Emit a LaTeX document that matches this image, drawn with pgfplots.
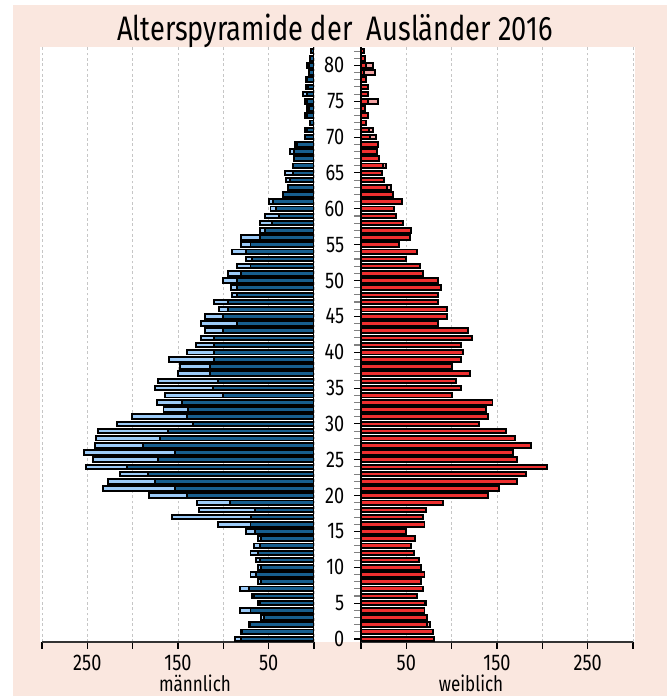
\documentclass[border=0pt]{standalone}
\usepackage{fontspec}
\setmainfont[FakeStretch=0.8]{Fira Sans}
\usepackage{pgfplots}
\usepackage{pgfplotstable}
\pgfplotsset{compat=1.18}

\definecolor{bgpeach}{HTML}{FAE7DF}
\definecolor{mdark}{HTML}{175E8E}
\definecolor{mlight}{HTML}{9CCBF8}
\definecolor{fred}{HTML}{EE2F2F}
\definecolor{flight}{HTML}{F4A3A3}

% age, male total (light), male subset (dark), female total (light), female subset (red)
\pgfplotstableread{
age mt md ft fr
0 87 80 81 81
1 80 79 79 79
2 72 71 76 73
3 58 55 73 73
4 82 70 70 70
5 62 60 72 70
6 68 66 62 62
7 82 72 68 68
8 62 58 66 66
9 70 64 70 70
10 62 58 66 66
11 64 60 64 64
12 70 62 58 58
13 66 60 55 55
14 62 58 60 60
15 75 65 50 50
16 106 70 70 70
17 157 69 68 68
18 127 65 72 72
19 129 93 90 90
20 182 140 140 140
21 233 153 152 152
22 227 175 172 172
23 214 183 182 182
24 251 206 205 205
25 244 172 172 172
26 254 153 168 168
27 242 189 188 188
28 240 170 170 170
29 238 161 160 160
30 217 133 130 130
31 201 140 140 140
32 166 139 138 138
33 173 146 145 145
34 164 100 100 100
35 175 111 110 110
36 172 106 105 105
37 150 115 120 120
38 148 115 100 100
39 160 110 110 110
40 140 110 112 112
41 130 110 110 110
42 125 110 122 122
43 120 100 118 118
44 125 85 85 85
45 120 100 95 95
46 105 95 95 95
47 110 95 85 85
48 90 85 85 85
49 92 85 88 88
50 100 85 85 85
51 95 80 68 68
52 85 70 65 65
53 75 68 50 50
54 90 75 62 62
55 80 70 42 42
56 80 60 54 54
57 60 54 55 55
58 60 46 46 46
59 54 39 39 39
60 48 42 36 36
61 50 45 45 45
62 34 34 35 35
63 29 29 33 29
64 31 26 25 25
65 32 23 23 23
66 23 23 28 24
67 22 22 20 20
68 26 22 18 18
69 21 19 19 19
70 10 10 16.5 10
71 10 8 13.5 9
72 4 4 6 6
73 10 8 8 8
74 8 6 4 4
75 10 8 19 8
76 12 8 8 8
77 9 7 8 8
78 9 8 6 6
79 5 5 15.5 3.5
80 8 6 13 5.5
81 4 4 4 4
82 3 3 3 3
}\pyr

\pgfplotsset{
  pyr/.style={
    scale only axis, width=204pt, height=446.25pt,
    xmin=0, xmax=300, ymin=-0.42, ymax=82.57,
    xbar, bar width=0.64, bar shift=0pt,
    axis x line*=bottom,
    x axis line style={-, line width=0.9pt, black!80},
    xtick={0,50,...,300},
    xticklabels={,50,,150,,250,},
    xmajorgrids,
    grid style={gray!45, dash pattern=on 2pt off 2pt, line width=0.6pt},
    tick align=outside,
    major tick length=5pt,
    tick style={black, line width=0.8pt},
    /pgf/number format/assume math mode=true,
    xticklabel style={font=\fontsize{17}{20}\selectfont, yshift=-1pt},
    every axis plot/.append style={draw=black, line width=1.45pt},
  }
}

\begin{document}
\begin{tikzpicture}[x=0.75pt,y=0.75pt]
\useasboundingbox (0,0) rectangle (667,696);
\clip (0,0) rectangle (667,696);
\fill[bgpeach] (12.5,0) rectangle (667,691);
\fill[white] (40,54) rectangle (635,649);
\node[anchor=base] at (335,655) {\fontsize{25.5}{30}\selectfont Alterspyramide der\ \ Ausländer 2016};

% male
\begin{axis}[pyr, at={(31.5pt,40.5pt)}, anchor=south west,
  x dir=reverse, axis y line=none]
  \addplot[fill=mlight] table[x=mt, y=age] {\pyr};
  \addplot[fill=mdark] table[x=md, y=age] {\pyr};
  \draw[black, line width=1.4pt] (axis cs:0,-0.42) -- (axis cs:0,82.57);
\end{axis}

% female
\begin{axis}[pyr, at={(270.75pt,40.5pt)}, anchor=south west,
  axis y line*=left,
  y axis line style={-, line width=1.4pt, black},
  ytick={0,5,...,80}, minor ytick={0,...,82},
  minor tick length=5pt,
  minor tick style={gray, line width=0.8pt},
  yticklabel style={font=\fontsize{17}{20}\selectfont, xshift=-4pt}]
  \addplot[fill=flight] table[x=ft, y=age] {\pyr};
  \addplot[fill=fred] table[x=fr, y=age] {\pyr};
\end{axis}

\node[anchor=base, inner sep=0pt] at (195,4) {\fontsize{16}{19}\selectfont männlich};
\node[anchor=base, inner sep=0pt] at (471,4) {\fontsize{16}{19}\selectfont weiblich};
\end{tikzpicture}
\end{document}
